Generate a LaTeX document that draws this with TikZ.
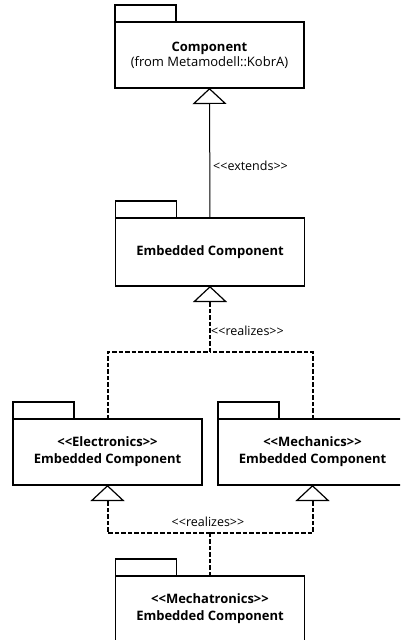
\documentclass[tikz,border=0pt]{standalone}
\usepackage{fontspec}
\setmainfont{Open Sans}
\usetikzlibrary{arrows.meta}
% plain angle brackets, kept apart so that no guillemet ligature forms
\newcommand\stopen{<\kern0pt<}
\newcommand\stclose{>\kern0pt>}
\begin{document}
\begin{tikzpicture}[x=1pt,y=-1pt,
  pkg/.style={draw,line width=1.2pt,outer sep=0pt,inner sep=0pt,
    minimum width=189pt,minimum height=66pt,align=center,
    font=\fontsize{13}{17}\selectfont\bfseries},
  tabbox/.style={draw,line width=1.2pt},
  hollow/.style={-{Triangle[open,length=16pt,width=34pt,line width=1.2pt]}},
  gen/.style={line width=1pt,hollow},
  realline/.style={line width=2pt,dash pattern=on 4.5pt off 2pt},
  real/.style={realline,hollow},
  stereo/.style={font=\fontsize{12.5}{14}\selectfont,inner sep=0pt}]
\useasboundingbox (0,0) rectangle (400,640);
\clip (0,0) rectangle (400,640);

% package bodies
\node[pkg] (comp) at (209.5,55) {Component\\[-2pt]{\mdseries\fontsize{13}{16}\selectfont (from Metamodell::KobrA)}};
\node[pkg,minimum height=68pt] (emb) at (210,252) {Embedded Component};
\node[pkg] (elec) at (107.5,452) {\stopen Electronics\stclose\\Embedded Component};
\node[pkg] (mech) at (312.5,452) {\stopen Mechanics\stclose\\Embedded Component};
\node[pkg] (mecha) at (210,609) {\stopen Mechatronics\stclose\\Embedded Component};

% package tabs
\foreach \p in {comp,emb,elec,mech,mecha}
  \draw[tabbox] (\p.north west) rectangle ++(61,-17);

% generalisation
\draw[gen] (emb.north) -- (comp.south);
\node[stereo,anchor=west] (lext) at (213,166) {\stopen extends\stclose};

% realisation of the embedded component
\coordinate (j1) at (210,352);
\draw[realline] (elec.north) |- (j1);
\draw[realline] (mech.north) |- (j1);
\draw[real] (j1) -- (emb.south);
\node[stereo,anchor=west] (lrea) at (211,331) {\stopen realizes\stclose};

% realisation of both specialisations
\coordinate (j2) at (210,533);
\draw[realline] (mecha.north) -- (j2);
\draw[real] (j2) -| (elec.south);
\draw[real] (j2) -| (mech.south);
\node[stereo] (lrea2) at (208,522) {\stopen realizes\stclose};
\end{tikzpicture}
\end{document}
